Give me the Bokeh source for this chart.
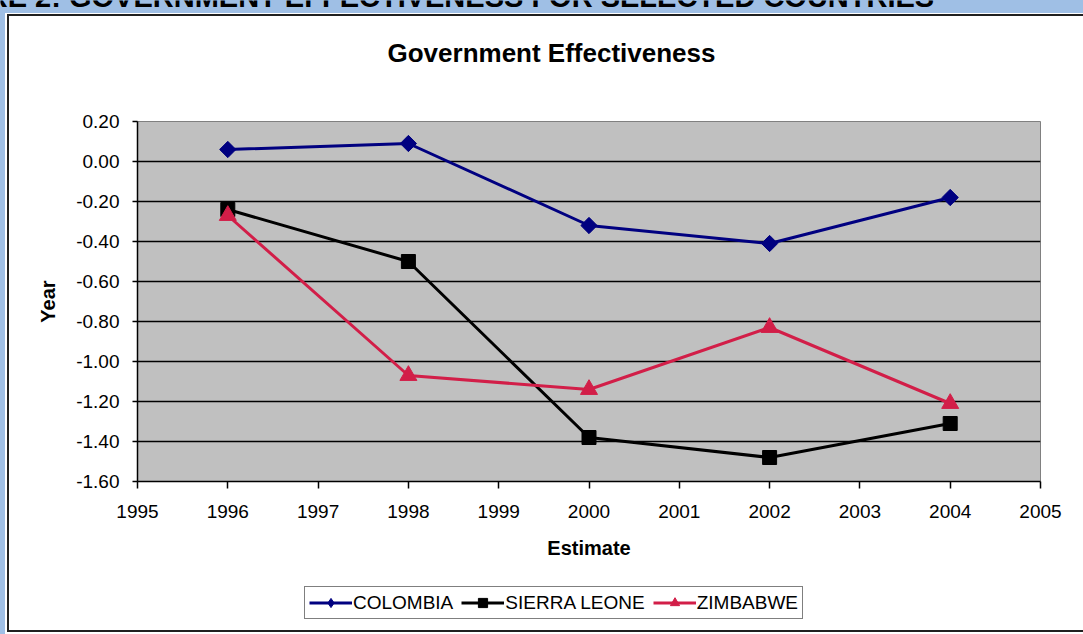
from bokeh.plotting import figure
from bokeh.layouts import column
from bokeh.models import (Range1d, FixedTicker, NumeralTickFormatter, Legend,
                          LegendItem, Label)
from bokeh.embed import file_html
from bokeh.resources import INLINE

# Government effectiveness estimates by survey year
years = [1996, 1998, 2000, 2002, 2004]
colombia = [0.06, 0.09, -0.32, -0.41, -0.18]
sierra_leone = [-0.24, -0.50, -1.38, -1.48, -1.31]
zimbabwe = [-0.27, -1.07, -1.14, -0.83, -1.21]

x_ticks = [1995, 1996, 1997, 1998, 1999, 2000, 2001, 2002, 2003, 2004, 2005]
y_ticks = [0.20, 0.00, -0.20, -0.40, -0.60, -0.80, -1.00, -1.20, -1.40, -1.60]

FONT = "Liberation Sans"
PAGE_BLUE = "#9FBFE5"
FRAME_DARK = "#202020"

# name, values, colour, chart marker, legend marker, size, angle
series = [
    ("COLOMBIA", colombia, "#000080", "square", "diamond", 11.5, 0.785398),
    ("SIERRA LEONE", sierra_leone, "black", "square", "square", 14, 0.0),
    ("ZIMBABWE", zimbabwe, "#D21E48", "triangle", "triangle", 17, 0.0),
]


def css_layers(layers):
    """Solid rectangles painted by CSS behind a transparent canvas."""
    return {
        "background-color": "white",
        "background-image": ", ".join(f"linear-gradient({c}, {c})" for c, _, _ in layers),
        "background-position": ", ".join(pos for _, pos, _ in layers),
        "background-size": ", ".join(sz for _, _, sz in layers),
        "background-repeat": "no-repeat",
    }


def unaligned(f):
    # keep each strip's own frame instead of lining frames up in the column
    if "frame_align" in f.properties():
        f.frame_align = False
    return f


def bare_figure(width, height):
    f = figure(width=width, height=height, output_backend="svg", title=None,
               toolbar_location=None, x_axis_type=None, y_axis_type=None,
               x_range=Range1d(0, width), y_range=Range1d(0, height),
               min_border=0, min_border_left=0, min_border_right=0,
               min_border_top=0, min_border_bottom=0)
    f.grid.visible = False
    f.outline_line_color = None
    f.border_fill_alpha = 0
    f.background_fill_alpha = 0
    return unaligned(f)


# ---- page heading (only its lower part shows) and chart title ----
head = bare_figure(1083, 100)
head.styles = css_layers([
    (PAGE_BLUE, "0px 0px", "100% 13px"),
    (PAGE_BLUE, "0px 0px", "5px 100%"),
    (FRAME_DARK, "7px 14px", "100% 2px"),
    (FRAME_DARK, "7px 14px", "2px 100%"),
])
head.add_layout(Label(x=-83, y=104,
                      text="FIGURE 2: GOVERNMENT EFFECTIVENESS FOR SELECTED COUNTRIES",
                      text_font=FONT, text_font_size="29px", text_font_style="bold",
                      text_color="black", text_baseline="alphabetic",
                      text_align="left"))
head.add_layout(Label(x=551, y=48, text="Government Effectiveness",
                      text_font=FONT, text_font_size="26px", text_font_style="bold",
                      text_color="black", text_baseline="middle",
                      text_align="center"))

# ---- main chart ----
p = figure(width=1083, height=480, output_backend="svg", toolbar_location=None,
           title=None, x_range=Range1d(1995, 2005), y_range=Range1d(-1.6, 0.2),
           min_border_left=137, min_border_right=43,
           min_border_top=21, min_border_bottom=99)
unaligned(p)
p.styles = css_layers([
    (PAGE_BLUE, "0px 0px", "5px 100%"),
    (FRAME_DARK, "7px 0px", "2px 100%"),
])
p.border_fill_alpha = 0
p.background_fill_color = "#C0C0C0"
p.outline_line_color = "#808080"
p.outline_line_width = 1

p.xaxis.ticker = FixedTicker(ticks=x_ticks)
p.yaxis.ticker = FixedTicker(ticks=y_ticks)
p.yaxis.formatter = NumeralTickFormatter(format="0.00")
for ax in (p.xaxis[0], p.yaxis[0]):
    ax.axis_line_color = "black"
    ax.axis_line_width = 1.5
    ax.major_tick_line_color = "black"
    ax.major_tick_line_width = 1.5
    ax.major_tick_in = 0
    ax.minor_tick_line_color = None
    ax.major_label_text_font = FONT
    ax.major_label_text_font_size = "19px"
    ax.major_label_text_color = "black"
    ax.axis_label_text_font = FONT
    ax.axis_label_text_font_size = "20px"
    ax.axis_label_text_font_style = "bold"
    ax.axis_label_text_color = "black"
p.xaxis.major_tick_out = 7
p.xaxis.major_label_standoff = 16
p.xaxis.axis_label = "Estimate"
p.xaxis.axis_label_standoff = 16
p.yaxis.major_tick_out = 5
p.yaxis.major_label_standoff = 13
p.yaxis.axis_label = "Year"
p.yaxis.axis_label_standoff = 14

p.xgrid.grid_line_color = None
p.ygrid.ticker = FixedTicker(ticks=y_ticks)
p.ygrid.grid_line_color = "black"
p.ygrid.grid_line_width = 1.5

for name, vals, color, marker, _, size, angle in series:
    p.line(years, vals, line_color=color, line_width=3)
    p.scatter(years, vals, marker=marker, size=size, angle=angle,
              fill_color=color, line_color=color)

# ---- legend strip under the chart ----
key = bare_figure(1083, 54)
key.styles = css_layers([
    (PAGE_BLUE, "0px 0px", "5px 100%"),
    (FRAME_DARK, "7px 0px", "2px 52px"),
    (FRAME_DARK, "7px 50px", "100% 2px"),
])
items = []
for name, vals, color, _, key_marker, size, angle in series:
    # same series, far outside this strip's ranges: only their legend swatches show
    ln = key.line(years, vals, line_color=color, line_width=3)
    sc = key.scatter(years, vals, marker=key_marker, size=size,
                     fill_color=color, line_color=color)
    items.append(LegendItem(label=name, renderers=[ln, sc]))

key_x = 304 if "frame_align" in key.properties() else 167
key.add_layout(Legend(items=items, orientation="horizontal", location=(key_x, 15),
                      label_text_font=FONT, label_text_font_size="19px",
                      label_text_color="black", glyph_width=43, glyph_height=23,
                      label_standoff=1, spacing=8, padding=4, margin=0,
                      border_line_color="black", border_line_width=1,
                      background_fill_color="white", background_fill_alpha=1.0))

page = column(head, p, key, spacing=0)

open("out.html", "w").write(file_html(page, INLINE))
